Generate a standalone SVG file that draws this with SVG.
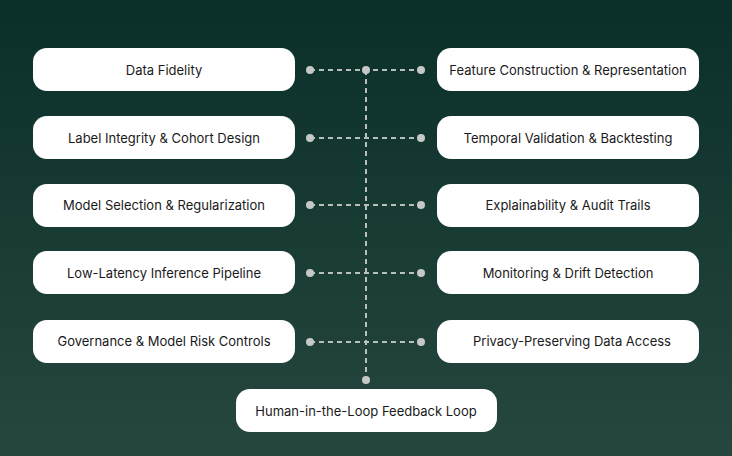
<svg xmlns="http://www.w3.org/2000/svg" width="732" height="456" viewBox="0 0 732 456">
<defs>
<linearGradient id="bg" x1="0" y1="0" x2="0" y2="1"><stop offset="0" stop-color="#0a2f29"/><stop offset="1" stop-color="#26473f"/></linearGradient>
<style>
.n rect{fill:#fff}
.n text{font-family:Inter,"Noto Sans",sans-serif;font-size:13px;fill:#1a1a1a;text-anchor:middle;dominant-baseline:central}
.c line{stroke:#b9bfbc;stroke-width:2;stroke-dasharray:5 4}
.c circle{fill:#c4c8c6}
</style>
</defs>
<rect width="732" height="456" fill="url(#bg)"/>
<g class="c">
<line x1="366" y1="70" x2="366" y2="380"/>
<line x1="310" y1="70" x2="421" y2="70"/>
<line x1="310" y1="138" x2="421" y2="138"/>
<line x1="310" y1="205" x2="421" y2="205"/>
<line x1="310" y1="273" x2="421" y2="273"/>
<line x1="310" y1="342" x2="421" y2="342"/>
<circle cx="310" cy="70" r="4"/><circle cx="421" cy="70" r="4"/><circle cx="366" cy="70" r="4"/>
<circle cx="310" cy="138" r="4"/><circle cx="421" cy="138" r="4"/>
<circle cx="310" cy="205" r="4"/><circle cx="421" cy="205" r="4"/>
<circle cx="310" cy="273" r="4"/><circle cx="421" cy="273" r="4"/>
<circle cx="310" cy="342" r="4"/><circle cx="421" cy="342" r="4"/>
<circle cx="366" cy="380" r="4"/>
</g>
<g id="n1" class="n"><rect x="33" y="48" width="262" height="43" rx="14"/><text x="164" y="70">Data Fidelity</text></g>
<g id="n2" class="n"><rect x="437" y="48" width="262" height="43" rx="14"/><text x="568" y="70">Feature Construction &amp; Representation</text></g>
<g id="n3" class="n"><rect x="33" y="116" width="262" height="43" rx="14"/><text x="164" y="138">Label Integrity &amp; Cohort Design</text></g>
<g id="n4" class="n"><rect x="437" y="116" width="262" height="43" rx="14"/><text x="568" y="138">Temporal Validation &amp; Backtesting</text></g>
<g id="n5" class="n"><rect x="33" y="184" width="262" height="43" rx="14"/><text x="164" y="205">Model Selection &amp; Regularization</text></g>
<g id="n6" class="n"><rect x="437" y="184" width="262" height="43" rx="14"/><text x="568" y="205">Explainability &amp; Audit Trails</text></g>
<g id="n7" class="n"><rect x="33" y="251" width="262" height="43" rx="14"/><text x="164" y="273">Low-Latency Inference Pipeline</text></g>
<g id="n8" class="n"><rect x="437" y="251" width="262" height="43" rx="14"/><text x="568" y="273">Monitoring &amp; Drift Detection</text></g>
<g id="n9" class="n"><rect x="33" y="320" width="262" height="43" rx="14"/><text x="164" y="341">Governance &amp; Model Risk Controls</text></g>
<g id="n10" class="n"><rect x="437" y="320" width="262" height="43" rx="14"/><text x="572" y="341">Privacy-Preserving Data Access</text></g>
<g id="n11" class="n"><rect x="236" y="389" width="261" height="43" rx="14"/><text x="366" y="411">Human-in-the-Loop Feedback Loop</text></g>
</svg>
